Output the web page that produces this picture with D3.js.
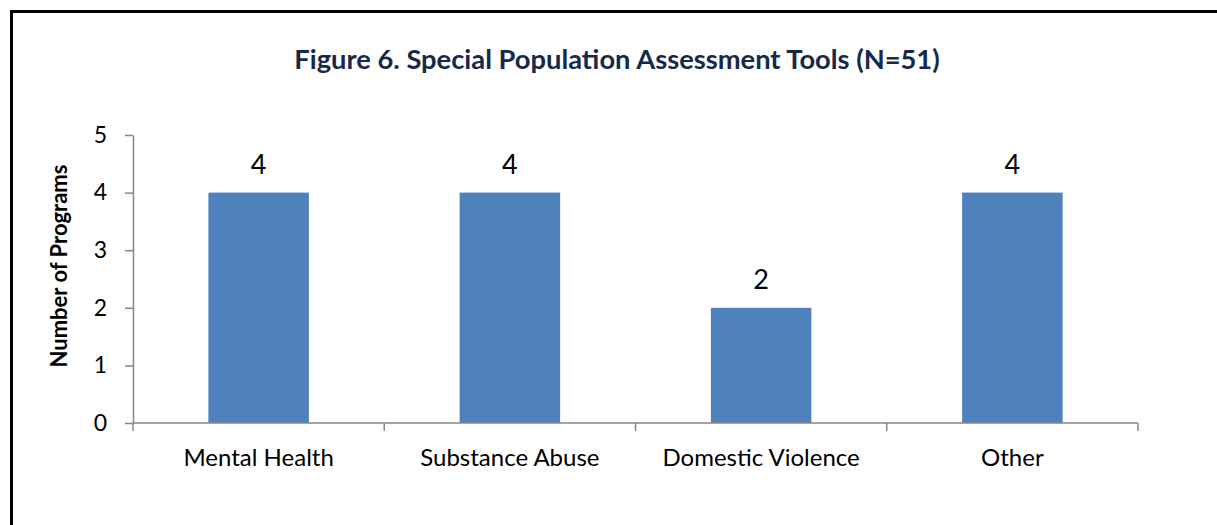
<!DOCTYPE html>
<html>
<head>
<meta charset="utf-8">
<script src="https://cdn.jsdelivr.net/npm/d3@7"></script>
<style>
  html, body { margin: 0; padding: 0; background: #fff; overflow: hidden; }
  svg { display: block; }
  text { font-family: Lato, "Open Sans", sans-serif; }
</style>
</head>
<body>
<svg id="chart" width="1217" height="525"></svg>
<script>
const categories = ["Mental Health", "Substance Abuse", "Domestic Violence", "Other"];
const programCounts = [4, 4, 2, 4];
const yTicks = [0, 1, 2, 3, 4, 5];
const titleText = "Figure 6. Special Population Assessment Tools (N=51)";
const yAxisTitle = "Number of Programs";

const svg = d3.select("#chart");
const W = 1217, H = 525;
const plot = { left: 133, right: 1138, top: 135, bottom: 423 };
const axisColor = "#868686";
const barColor = "#4F81BD";

// Outer frame of the figure
svg.append("rect")
  .attr("x", 11.5).attr("y", 11.5)
  .attr("width", W + 20).attr("height", H + 20)
  .attr("fill", "none").attr("stroke", "#000").attr("stroke-width", 3);

svg.append("text")
  .attr("x", 617).attr("y", 69)
  .attr("text-anchor", "middle")
  .attr("font-weight", "bold")
  .attr("font-size", 27.3)
  .attr("fill", "#17294A")
  .text(titleText);

const x = d3.scaleBand()
  .domain(categories)
  .range([plot.left, plot.right])
  .paddingInner(0.6)
  .paddingOuter(0.3);

const y = d3.scaleLinear().domain([0, 5]).range([plot.bottom, plot.top]);

// Bars
svg.append("g").selectAll("rect")
  .data(categories)
  .join("rect")
  .attr("x", d => x(d))
  .attr("y", (d, i) => y(programCounts[i]))
  .attr("width", x.bandwidth())
  .attr("height", (d, i) => y(0) - y(programCounts[i]))
  .attr("fill", barColor);

// Value labels
svg.append("g").selectAll("text")
  .data(categories)
  .join("text")
  .attr("x", d => x(d) + x.bandwidth() / 2)
  .attr("y", (d, i) => y(programCounts[i]) - 19)
  .attr("text-anchor", "middle")
  .attr("font-size", 27)
  .attr("fill", "#000")
  .text((d, i) => programCounts[i]);

// Y axis
const yAxis = svg.append("g")
  .attr("transform", `translate(${plot.left},0)`)
  .call(d3.axisLeft(y).tickValues(yTicks).tickSize(8).tickSizeOuter(0).tickPadding(18).tickFormat(d3.format("d")));
yAxis.select(".domain").attr("stroke", axisColor).attr("stroke-width", 1.5);
yAxis.selectAll(".tick line").attr("stroke", axisColor).attr("stroke-width", 1.5);
yAxis.selectAll(".tick text").attr("font-size", 23).attr("fill", "#000").attr("font-family", "Lato, sans-serif");

// X axis with tick marks at category boundaries
const xAxisG = svg.append("g").attr("transform", `translate(0,${plot.bottom})`);
xAxisG.append("line")
  .attr("x1", plot.left).attr("x2", plot.right)
  .attr("stroke", axisColor).attr("stroke-width", 1.5);
const step = x.step();
const boundaries = d3.range(categories.length + 1).map(i => plot.left + i * step);
xAxisG.selectAll(".bnd")
  .data(boundaries)
  .join("line")
  .attr("x1", d => d).attr("x2", d => d)
  .attr("y1", 0).attr("y2", 8)
  .attr("stroke", axisColor).attr("stroke-width", 1.5);
xAxisG.selectAll(".cat")
  .data(categories)
  .join("text")
  .attr("x", d => x(d) + x.bandwidth() / 2)
  .attr("y", 43)
  .attr("text-anchor", "middle")
  .attr("font-size", 24)
  .attr("fill", "#000")
  .text(d => d);

// Y axis title
svg.append("text")
  .attr("transform", `translate(67,266) rotate(-90)`)
  .attr("text-anchor", "middle")
  .attr("font-weight", "bold")
  .attr("font-size", 22)
  .attr("fill", "#000")
  .text(yAxisTitle);
</script>
</body>
</html>
